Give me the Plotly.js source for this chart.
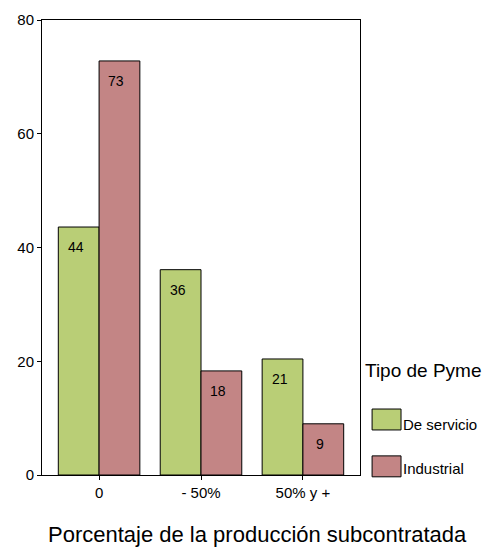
<!DOCTYPE html>
<html>
<head>
<meta charset="utf-8">
<script src="https://cdn.plot.ly/plotly-3.0.1.min.js"></script>
<style>html,body{margin:0;padding:0;background:#fff;}#chart{width:485px;height:551px;}</style>
</head>
<body>
<div id="chart"></div>
<script>
var categories = ["0", "- 50%", "50% y +"];
var seriesNames = ["De servicio", "Industrial"];
var servicioValues = [43.6, 36.1, 20.4];
var industrialValues = [72.8, 18.3, 9.0];
var servicioLabels = ["44", "36", "21"];
var industrialLabels = ["73", "18", "9"];
var yTicks = [0, 20, 40, 60, 80];
var legendTitle = "Tipo de Pyme";
var xTitle = "Porcentaje de la producción subcontratada";

var colors = ["#b9ce76", "#c38585"];
var font = "Liberation Sans, Arial, sans-serif";

function barTrace(name, vals, color) {
  return {
    type: "bar", name: name, x: categories, y: vals,
    marker: {color: color, line: {color: "#000", width: 1}},
    showlegend: false, hoverinfo: "skip"
  };
}

var data = [
  barTrace(seriesNames[0], servicioValues, colors[0]),
  barTrace(seriesNames[1], industrialValues, colors[1])
];

var shapes = [], annotations = [];
// value labels inside top of each bar
[[servicioValues, servicioLabels, -23], [industrialValues, industrialLabels, 17]].forEach(function(s) {
  categories.forEach(function(c, j) {
    annotations.push({x: c, y: s[0][j], xref: "x", yref: "y", yanchor: "top", xanchor: "center",
      xshift: s[2], yshift: -10, text: s[1][j], showarrow: false,
      font: {family: font, size: 14, color: "#000"}});
  });
});
// x axis title (centred on the page, as in the reference)
annotations.push({xref: "paper", yref: "paper", x: 0.679, y: -0.163, xanchor: "center", yanchor: "bottom",
  text: xTitle, showarrow: false, font: {family: font, size: 22, color: "#000"}});
// legend
annotations.push({xref: "paper", yref: "paper", x: 1.01, y: 0.229, xanchor: "left", yanchor: "middle",
  text: legendTitle, showarrow: false, font: {family: font, size: 19, color: "#000"}});
var legBox = [[0.099, 0.145], [-0.004, 0.042]];
var legTextY = [0.112, 0.015];
seriesNames.forEach(function(n, i) {
  shapes.push({type: "rect", xref: "paper", yref: "paper",
    x0: 1.038, x1: 1.129, y0: legBox[i][0], y1: legBox[i][1],
    fillcolor: colors[i], line: {color: "#000", width: 1}});
  annotations.push({xref: "paper", yref: "paper", x: 1.129, y: legTextY[i], xanchor: "left", yanchor: "middle",
    text: n, showarrow: false, font: {family: font, size: 15, color: "#000"}});
});

var layout = {
  width: 485, height: 551,
  margin: {l: 42, r: 125, t: 20, b: 76},
  paper_bgcolor: "#fff", plot_bgcolor: "#fff",
  barmode: "group", bargap: 0.2, bargroupgap: 0,
  font: {family: font, size: 15, color: "#000"},
  xaxis: {
    type: "category", range: [-0.56, 2.56],
    showline: true, linecolor: "#000", linewidth: 1, mirror: true,
    ticks: "outside", ticklen: 4, tickcolor: "#000",
    showgrid: false, zeroline: false,
    tickfont: {family: font, size: 15, color: "#000"}
  },
  yaxis: {
    range: [0, 80], tickvals: yTicks,
    showline: true, linecolor: "#000", linewidth: 1, mirror: true,
    ticks: "outside", ticklen: 4, tickcolor: "#000",
    showgrid: false, zeroline: false,
    tickfont: {family: font, size: 15, color: "#000"}
  },
  shapes: shapes, annotations: annotations
};

Plotly.newPlot("chart", data, layout, {staticPlot: true, displayModeBar: false});
</script>
</body>
</html>
